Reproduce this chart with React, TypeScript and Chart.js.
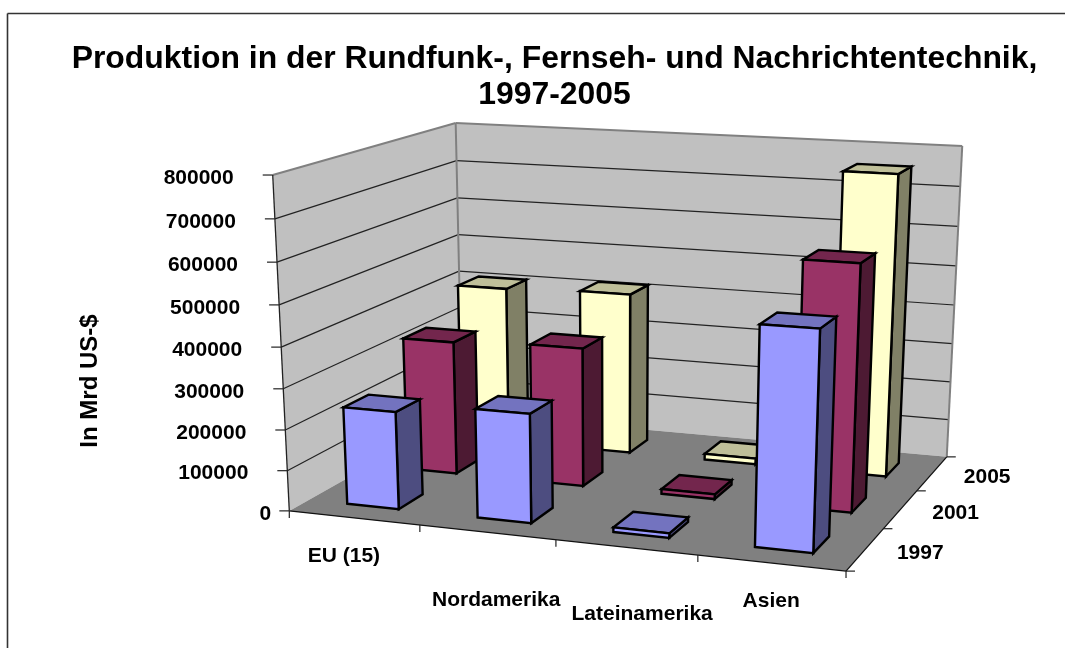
import React, { useEffect, useRef } from "react";
import { Chart, registerables } from "chart.js";

Chart.register(...registerables);

const titleLines = ["Produktion in der Rundfunk-, Fernseh- und Nachrichtentechnik,", "1997-2005"];
const yAxisTitle = "In Mrd US-$";
const categories = ["EU (15)", "Nordamerika", "Lateinamerika", "Asien"];
const years = ["1997", "2001", "2005"];
const values1997 = [240000, 265000, 11000, 515000];
const values2001 = [338000, 348000, 12000, 600000];
const values2005 = [410000, 418000, 15000, 758000];
const colors = ["#9999FF", "#993366", "#FFFFCC"];

const FONT = '"Liberation Sans", Arial, sans-serif';
const LABEL_FONT = `bold 21px ${FONT}`;

// Camera calibration: unit-cube corner (category, depth, height) -> page pixel
const CALIB: number[][] = [
  [0, 0, 0, 290, 511],
  [1, 0, 0, 846, 571],
  [1, 1, 0, 947, 457],
  [0, 1, 0, 461.5, 413],
  [0, 0, 1, 272, 175],
  [0, 1, 1, 456.5, 123],
  [1, 1, 1, 962, 146],
];
const CAT_LABEL_OFFSET = [
  [-10, 38],
  [9, 68],
  [16, 67],
  [0, 38],
];

function solve(A: number[][], b: number[]) {
  const n = b.length;
  const M = A.map((r, i) => [...r, b[i]]);
  for (let c = 0; c < n; c++) {
    let p = c;
    for (let r = c + 1; r < n; r++) if (Math.abs(M[r][c]) > Math.abs(M[p][c])) p = r;
    [M[c], M[p]] = [M[p], M[c]];
    for (let r = 0; r < n; r++) {
      if (r === c) continue;
      const f = M[r][c] / M[c][c];
      for (let k = c; k <= n; k++) M[r][k] -= f * M[c][k];
    }
  }
  return M.map((r, i) => r[n] / r[i]);
}

function buildCamera() {
  const rows: number[][] = [];
  const rhs: number[] = [];
  for (const [X, Y, Z, px, py] of CALIB) {
    const x = px / 1000;
    const y = py / 1000;
    rows.push([X, Y, Z, 1, 0, 0, 0, 0, -x * X, -x * Y, -x * Z]);
    rhs.push(x);
    rows.push([0, 0, 0, 0, X, Y, Z, 1, -y * X, -y * Y, -y * Z]);
    rhs.push(y);
  }
  const N = 11;
  const ata = Array.from({ length: N }, () => new Array(N).fill(0));
  const atb = new Array(N).fill(0);
  rows.forEach((r, i) => {
    for (let a = 0; a < N; a++) {
      atb[a] += r[a] * rhs[i];
      for (let c = 0; c < N; c++) ata[a][c] += r[a] * r[c];
    }
  });
  const p = solve(ata, atb);
  return (u: number, w: number, z: number): [number, number] => {
    const d = p[8] * u + p[9] * w + p[10] * z + 1;
    return [
      (1000 * (p[0] * u + p[1] * w + p[2] * z + p[3])) / d,
      (1000 * (p[4] * u + p[5] * w + p[6] * z + p[7])) / d,
    ];
  };
}

function shade(hex: string, f: number) {
  const n = parseInt(hex.slice(1), 16);
  const c = [(n >> 16) & 255, (n >> 8) & 255, n & 255].map((v) => Math.round(v * f));
  return `rgb(${c[0]},${c[1]},${c[2]})`;
}

const scene3d = {
  id: "scene3d",
  beforeDatasetsDraw(chart: any) {
    const ctx: CanvasRenderingContext2D = chart.ctx;
    const P = buildCamera();
    const { x, y, depth } = chart.scales;
    const U = (i: number) => (x.getPixelForValue(i) - x.left) / x.width;
    const W = (j: number) => (depth.getPixelForValue(j) - depth.left) / depth.width;
    const Z = (v: number) => (y.bottom - y.getPixelForValue(v)) / (y.bottom - y.top);
    const halfU = 0.2 * (U(1) - U(0));
    const halfW = 0.2 * (W(1) - W(0));

    const poly = (pts: [number, number][], fill?: string, stroke?: string, lw = 1) => {
      ctx.beginPath();
      pts.forEach((p, i) => (i ? ctx.lineTo(p[0], p[1]) : ctx.moveTo(p[0], p[1])));
      ctx.closePath();
      if (fill) {
        ctx.fillStyle = fill;
        ctx.fill();
      }
      if (stroke) {
        ctx.strokeStyle = stroke;
        ctx.lineWidth = lw;
        ctx.stroke();
      }
    };
    const line = (a: [number, number], b: [number, number], c: string, lw: number) => {
      ctx.beginPath();
      ctx.moveTo(a[0], a[1]);
      ctx.lineTo(b[0], b[1]);
      ctx.strokeStyle = c;
      ctx.lineWidth = lw;
      ctx.stroke();
    };

    ctx.save();
    // page border: top and left only
    line([7.5, 648], [7.5, 13.5], "#333", 1.6);
    line([7.5, 13.5], [1065, 13.5], "#333", 1.6);

    // walls
    poly([P(0, 0, 0), P(0, 1, 0), P(0, 1, 1), P(0, 0, 1)], "#C0C0C0");
    poly([P(0, 1, 0), P(1, 1, 0), P(1, 1, 1), P(0, 1, 1)], "#C0C0C0");
    // grid
    for (const t of y.ticks) {
      const z = Z(t.value);
      if (z <= 0 || z >= 1) continue;
      line(P(0, 0, z), P(0, 1, z), "#222", 1.2);
      line(P(0, 1, z), P(1, 1, z), "#222", 1.2);
    }
    // wall outline
    line(P(0, 0, 1), P(0, 1, 1), "#808080", 2);
    line(P(0, 1, 1), P(1, 1, 1), "#808080", 2);
    line(P(1, 1, 1), P(1, 1, 0), "#808080", 2);
    line(P(0, 1, 1), P(0, 1, 0), "#808080", 2);
    // floor
    poly([P(0, 0, 0), P(1, 0, 0), P(1, 1, 0), P(0, 1, 0)], "#808080");
    line(P(0, 0, 0), P(1, 0, 0), "#111", 1.3);
    line(P(1, 0, 0), P(1, 1, 0), "#111", 1.3);
    line(P(0, 0, 0), P(0, 0, 1), "#222", 1.3);

    // bars, back row first
    ctx.lineJoin = "miter";
    for (let j = years.length - 1; j >= 0; j--) {
      const ds = chart.data.datasets[j];
      const base = ds.backgroundColor as string;
      for (let i = 0; i < categories.length; i++) {
        const z = Z(ds.data[i]);
        const u0 = U(i) - halfU;
        const u1 = U(i) + halfU;
        const w0 = W(j) - halfW;
        const w1 = W(j) + halfW;
        poly([P(u1, w0, 0), P(u1, w1, 0), P(u1, w1, z), P(u1, w0, z)], shade(base, 0.5), "#000", 2.4);
        poly([P(u0, w0, z), P(u1, w0, z), P(u1, w1, z), P(u0, w1, z)], shade(base, 0.75), "#000", 2.4);
        poly([P(u0, w0, 0), P(u1, w0, 0), P(u1, w0, z), P(u0, w0, z)], base, "#000", 2.4);
      }
    }

    // axes text and ticks
    ctx.fillStyle = "#000";
    ctx.font = LABEL_FONT;
    ctx.textBaseline = "middle";
    ctx.textAlign = "right";
    for (const t of y.ticks) {
      const p = P(0, 0, Z(t.value));
      line([p[0] - 10, p[1]], p, "#222", 1.2);
      ctx.fillStyle = "#000";
      const gap = t.value === 0 ? 18 : 39;
      ctx.fillText(String(t.value), p[0] - gap, p[1] + 3);
    }
    for (let i = 0; i <= categories.length; i++) {
      const p = P(i / categories.length, 0, 0);
      line(p, [p[0], p[1] + 7], "#222", 1.2);
    }
    for (let j = 0; j <= years.length; j++) {
      const p = P(1, j / years.length, 0);
      line(p, [p[0] + 9, p[1]], "#222", 1.2);
    }
    ctx.fillStyle = "#000";
    ctx.textAlign = "center";
    categories.forEach((c, i) => {
      const p = P(U(i), 0, 0);
      ctx.fillText(c, p[0] + CAT_LABEL_OFFSET[i][0], p[1] + CAT_LABEL_OFFSET[i][1]);
    });
    years.forEach((c, j) => {
      const p = P(1, W(j), 0);
      ctx.fillText(c, p[0] + 55, p[1] + 4);
    });
    ctx.save();
    ctx.translate(90, 381);
    ctx.rotate(-Math.PI / 2);
    ctx.font = `bold 24px ${FONT}`;
    ctx.fillText(yAxisTitle, 0, 0);
    ctx.restore();
    ctx.restore();
    return false;
  },
};

export default function App() {
  const ref = useRef<HTMLCanvasElement>(null);
  useEffect(() => {
    const chart = new Chart(ref.current!, {
      type: "bar",
      data: {
        labels: categories,
        datasets: [
          { label: years[0], data: values1997, backgroundColor: colors[0] },
          { label: years[1], data: values2001, backgroundColor: colors[1] },
          { label: years[2], data: values2005, backgroundColor: colors[2] },
        ],
      },
      options: {
        responsive: false,
        animation: false,
        layout: { padding: { left: 44, top: 0 } },
        plugins: {
          legend: { display: false },
          tooltip: { enabled: false },
          title: {
            display: true,
            text: titleLines,
            color: "#000",
            font: { family: "Liberation Sans", size: 31.9, weight: "bold", lineHeight: 1.15 },
            padding: { top: 40.5, bottom: 10 },
          },
        },
        scales: {
          x: { display: false, offset: true },
          depth: { type: "category", axis: "x", labels: years, offset: true, display: false },
          y: { display: false, min: 0, max: 800000, ticks: { stepSize: 100000 } },
        },
      },
      plugins: [scene3d],
    } as any);
    return () => chart.destroy();
  }, []);
  return (
    <div style={{ position: "absolute", left: 0, top: 0, width: 1065, height: 648, background: "#fff", overflow: "hidden" }}>
      <canvas ref={ref} width={1065} height={648} style={{ display: "block" }} />
    </div>
  );
}
